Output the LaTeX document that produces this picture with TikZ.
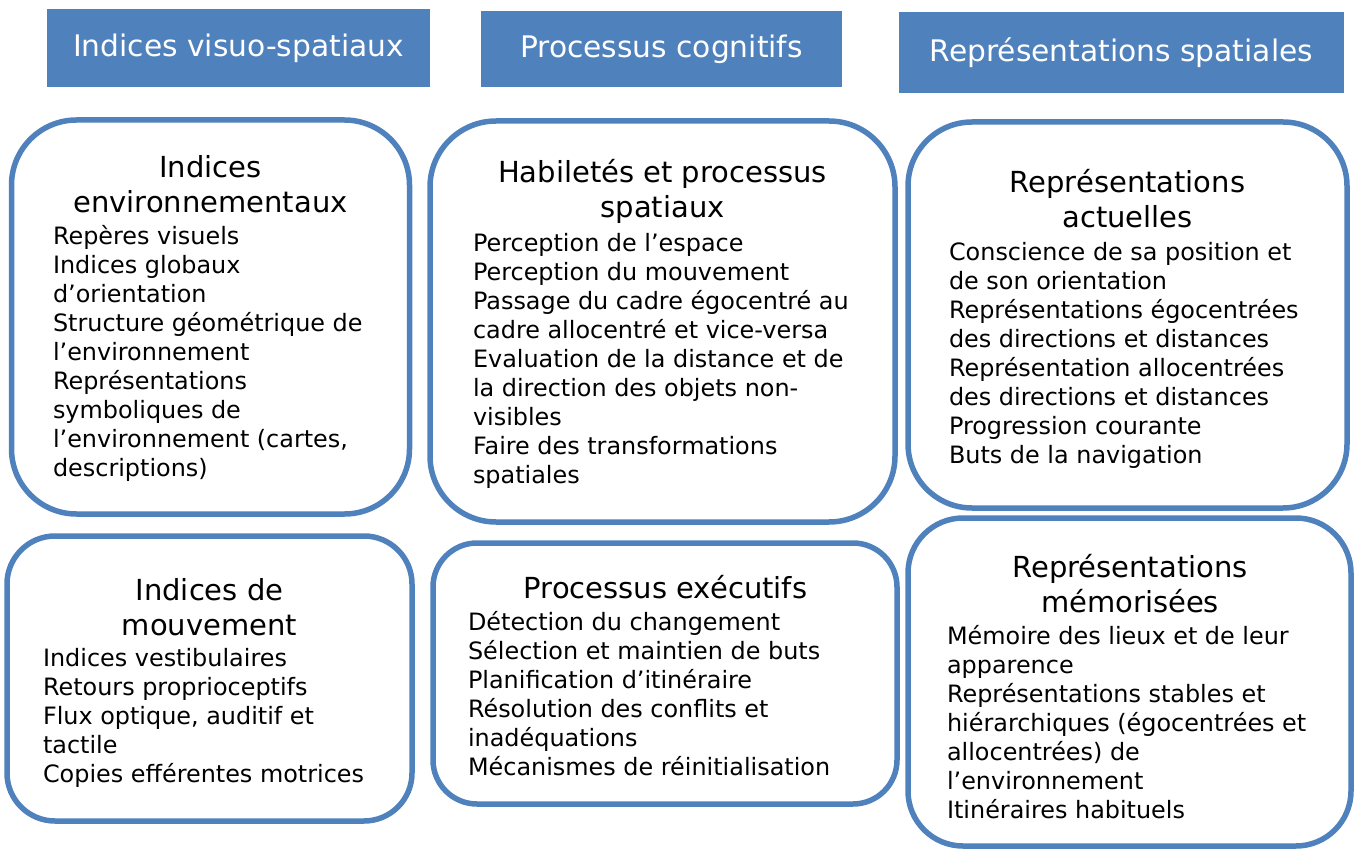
\documentclass[tikz,border=0pt]{standalone}
\usepackage{fontspec}
\setmainfont{DejaVu Sans}
\usetikzlibrary{positioning}
\definecolor{panelblue}{RGB}{79,129,189}

\begin{document}
\begin{tikzpicture}[x=1pt, y=-1pt,
	texts/.style = {text=black},
	headtexts/.style = {text=white, font=\fontsize{29.7}{34}\selectfont},
	titletexts/.style = {texts, align=center, anchor=base, font=\fontsize{29}{35}\selectfont},
	itemtexts/.style = {texts, align=left, anchor=base west, font=\fontsize{23.9}{29}\selectfont},
	header/.style = {headtexts, fill=panelblue, inner sep=0pt},
	panel/.style = {draw=panelblue, line width=5.5pt, fill=white, inner sep=0pt}
]
	\useasboundingbox (0,0) rectangle (1360,850);

	% column headers
	\node[header, minimum width=383pt, minimum height=78pt] (hvisuo) at (238.5,48) {Indices visuo-spatiaux};
	\node[header, minimum width=361pt, minimum height=76pt] (hcogn) at (661.5,49) {Processus cognitifs};
	\node[header, minimum width=445pt, minimum height=81pt] (hrepr) at (1121.5,52.5) {Représentations spatiales};

	% panels
	\node[panel, minimum width=398pt, minimum height=394pt, rounded corners=65pt] (envbox) at (210.5,317) {};
	\node[panel, minimum width=465pt, minimum height=401pt, rounded corners=66pt] (habbox) at (662.5,321.5) {};
	\node[panel, minimum width=439pt, minimum height=386pt, rounded corners=64pt] (actbox) at (1127.5,315) {};
	\node[panel, minimum width=405pt, minimum height=285pt, rounded corners=48pt] (mouvbox) at (209.5,678.5) {};
	\node[panel, minimum width=464pt, minimum height=261pt, rounded corners=44pt] (execbox) at (665,673.5) {};
	\node[panel, minimum width=443pt, minimum height=328pt, rounded corners=55pt] (memobox) at (1129.5,682) {};

	% panel texts (base = baseline of the last line)
	\node[titletexts] (envtitle) at (210.5,213) {Indices\\environnementaux};
	\node[itemtexts] (envitems) at (49.5,476) {Repères visuels\\Indices globaux\\d’orientation\\Structure géométrique de\\l’environnement\\Représentations\\symboliques de\\l’environnement (cartes,\\descriptions)};

	\node[titletexts] (habtitle) at (662.5,218) {Habiletés et processus\\spatiaux};
	\node[itemtexts] (habitems) at (469.5,483) {Perception de l’espace\\Perception du mouvement\\Passage du cadre égocentré au\\cadre allocentré et vice-versa\\Evaluation de la distance et de\\la direction des objets non-\\visibles\\Faire des transformations\\spatiales};

	\node[titletexts] (acttitle) at (1127.5,228) {Représentations\\actuelles};
	\node[itemtexts] (actitems) at (945.5,463) {Conscience de sa position et\\de son orientation\\Représentations égocentrées\\des directions et distances\\Représentation allocentrées\\des directions et distances\\Progression courante\\Buts de la navigation};

	\node[titletexts] (mouvtitle) at (209.5,635) {Indices de\\mouvement};
	\node[itemtexts] (mouvitems) at (39.5,782) {Indices vestibulaires\\Retours proprioceptifs\\Flux optique, auditif et\\tactile\\Copies efférentes motrices};

	\node[titletexts] (exectitle) at (665.5,598) {Processus exécutifs};
	\node[itemtexts] (execitems) at (464.5,775) {Détection du changement\\Sélection et maintien de buts\\Planification d’itinéraire\\Résolution des conflits et\\inadéquations\\Mécanismes de réinitialisation};

	\node[titletexts] (memotitle) at (1130,612) {Représentations\\mémorisées};
	\node[itemtexts] (memoitems) at (943.5,818) {Mémoire des lieux et de leur\\apparence\\Représentations stables et\\hiérarchiques (égocentrées et\\allocentrées) de\\l’environnement\\Itinéraires habituels};
\end{tikzpicture}
\end{document}
